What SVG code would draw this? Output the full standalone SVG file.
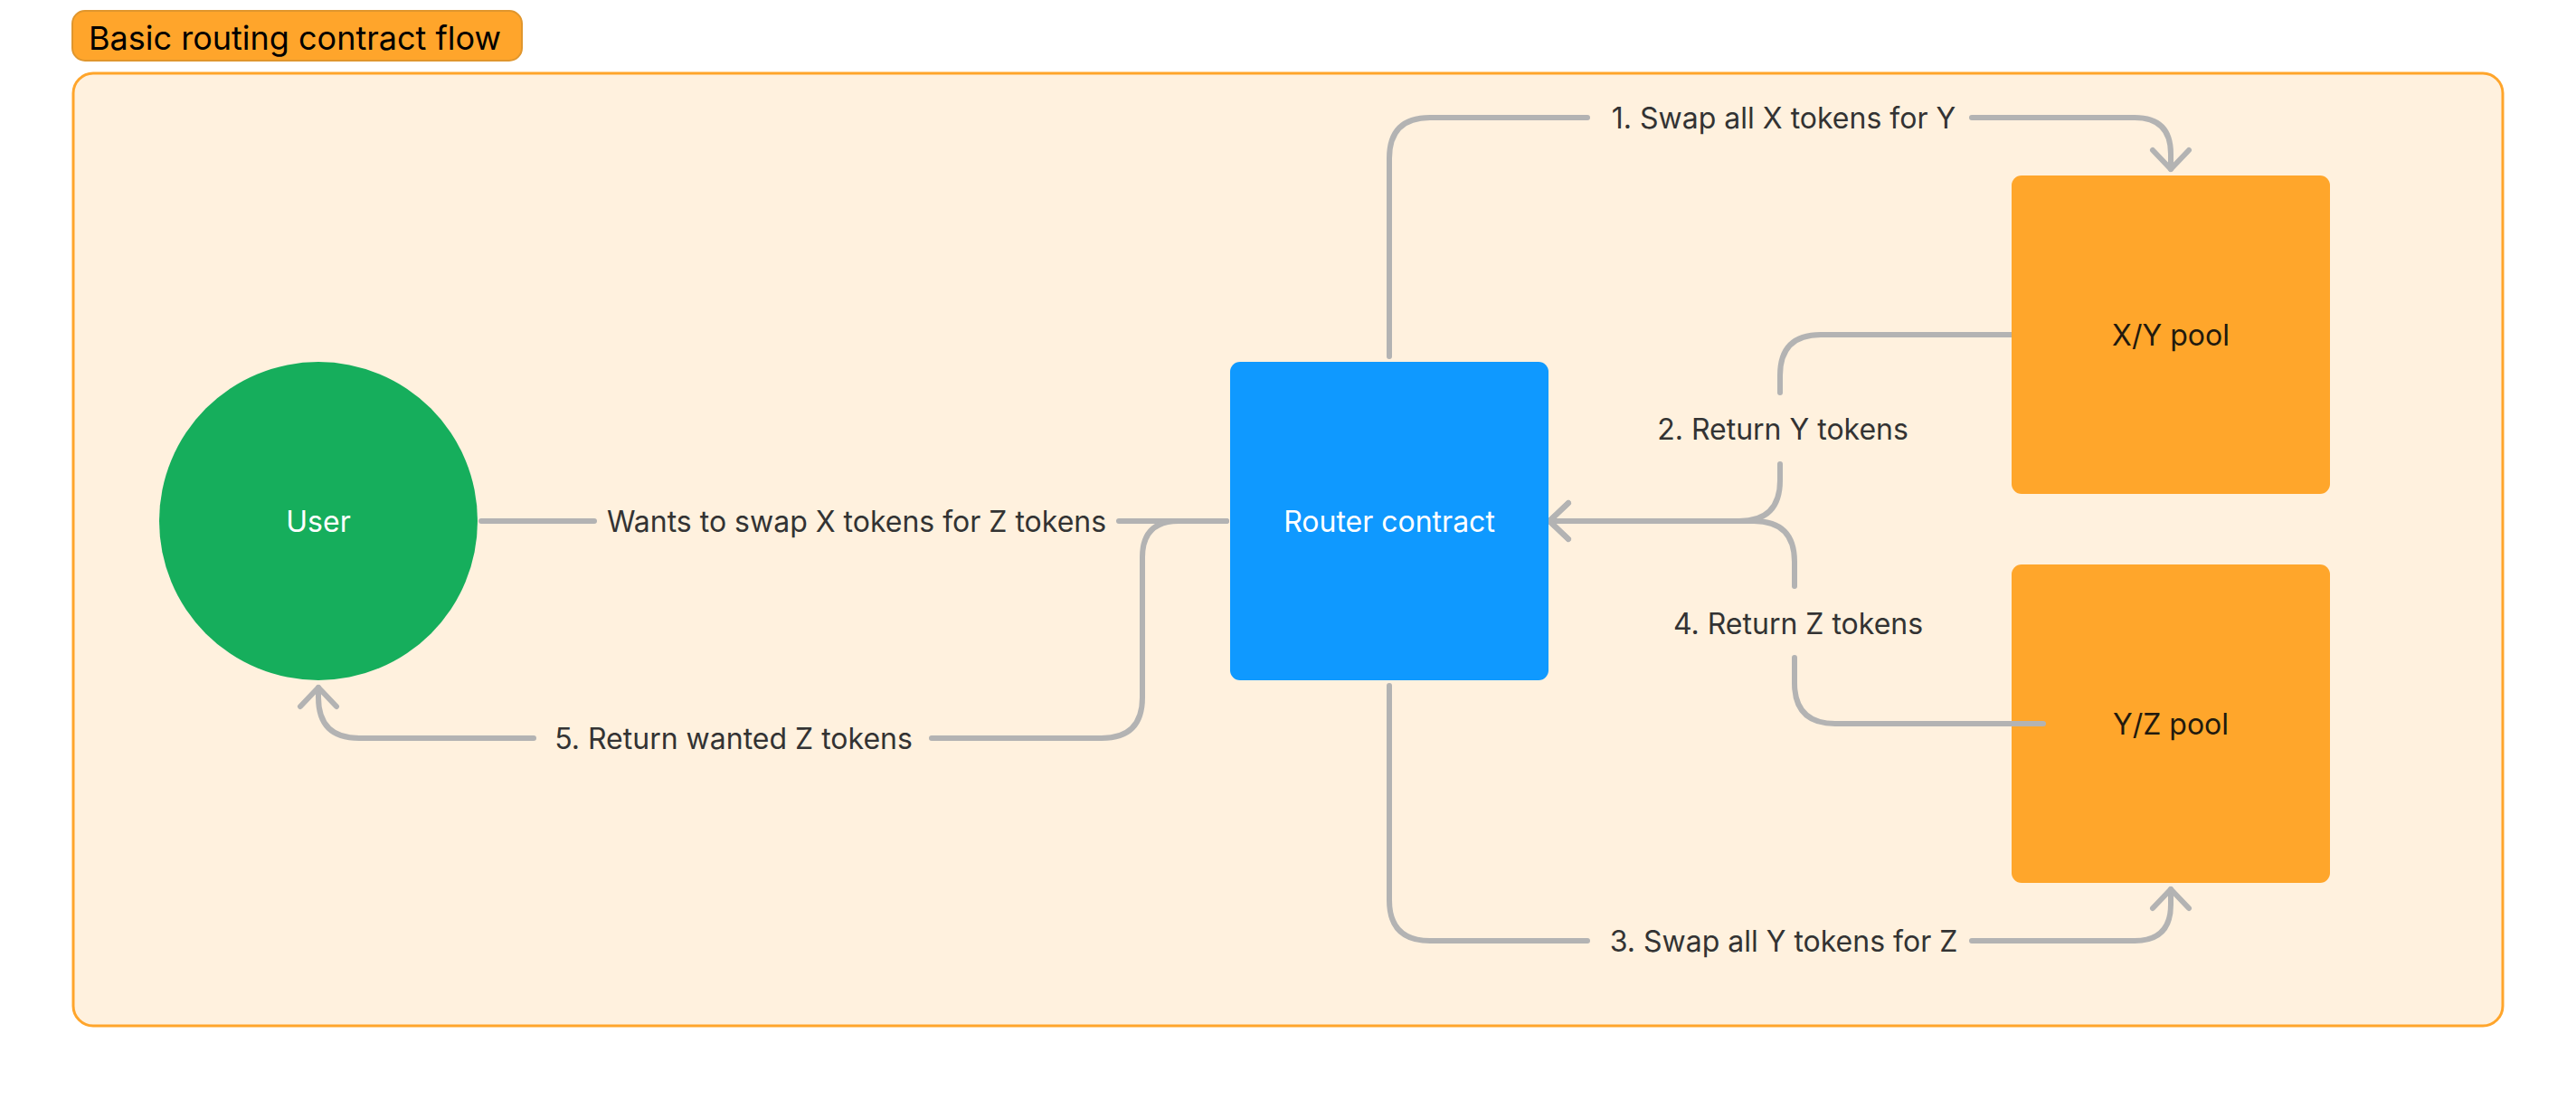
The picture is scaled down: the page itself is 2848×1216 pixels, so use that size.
<svg xmlns="http://www.w3.org/2000/svg" width="2848" height="1216" viewBox="0 0 2848 1216">
<style>
.lbl{font-family:Inter,"Noto Sans","Liberation Sans",sans-serif;font-size:32px;fill:#333333;text-anchor:middle}
.nlbl{font-family:Inter,"Noto Sans","Liberation Sans",sans-serif;font-size:32px;text-anchor:middle}
.edge{fill:none;stroke:#B3B3B3;stroke-width:6;stroke-linecap:round;stroke-linejoin:round}
</style>
<defs>
<marker id="arr" markerUnits="userSpaceOnUse" markerWidth="60" markerHeight="60" viewBox="-30 -30 60 60" refX="0" refY="0" orient="auto" overflow="visible">
<path d="M-21,-20 L0,0 L-21,20" fill="none" stroke="#B3B3B3" stroke-width="6" stroke-linecap="round" stroke-linejoin="round"/>
</marker>
</defs>
<rect width="2848" height="1216" fill="#FFFFFF"/>
<g id="container">
<rect x="81" y="81" width="2686" height="1053" rx="22" fill="#FFF1DE" stroke="#FFA52B" stroke-width="3"/>
</g>
<g id="title">
<rect x="80" y="12" width="497" height="55" rx="14" fill="#FFA52B" stroke="#E0962D" stroke-width="2"/>
<text x="98" y="55" font-family="Inter,'Noto Sans','Liberation Sans',sans-serif" font-size="36" fill="#000000">Basic routing contract flow</text>
</g>
<g id="connectors">
<path class="edge" d="M532,576 H657 M1237,576 H1356"/>
<path class="edge" marker-end="url(#arr)" d="M1356,576 H1303 Q1263,576 1263,616 V771 Q1263,816 1218,816 H1030 M590,816 H397 Q352,816 352,771 V760"/>
<path class="edge" marker-end="url(#arr)" d="M1536,394 V175 Q1536,130 1581,130 H1755 M2180,130 H2360 Q2400,130 2400,170 V187"/>
<path class="edge" marker-end="url(#arr)" d="M1536,758 V995 Q1536,1040 1581,1040 H1755 M2180,1040 H2360 Q2400,1040 2400,1000 V983"/>
<path class="edge" marker-end="url(#arr)" d="M2224,370 H2013 Q1968,370 1968,415 V434 M1968,513 V531 Q1968,576 1923,576 H1713"/>
<path class="edge" marker-end="url(#arr)" d="M1984,648 V621 Q1984,576 1939,576 H1713"/>
<text class="lbl" x="947" y="588">Wants to swap X tokens for Z tokens</text>
<text class="lbl" x="811" y="828">5. Return wanted Z tokens</text>
<text class="lbl" x="1972" y="142">1. Swap all X tokens for Y</text>
<text class="lbl" x="1972" y="1052">3. Swap all Y tokens for Z</text>
<text class="lbl" x="1971" y="486">2. Return Y tokens</text>
<text class="lbl" x="1988" y="701">4. Return Z tokens</text>
</g>
<g id="user">
<circle cx="352" cy="576" r="176" fill="#16AE5C"/>
<text class="nlbl" x="352" y="588" fill="#FFFFFF">User</text>
</g>
<g id="router">
<rect x="1360" y="400" width="352" height="352" rx="11" fill="#0F99FF"/>
<text class="nlbl" x="1536" y="588" fill="#FFFFFF">Router contract</text>
</g>
<g id="xy-pool">
<rect x="2224" y="194" width="352" height="352" rx="11" fill="#FFA62B"/>
<text class="nlbl" x="2400" y="382" fill="#221A0E">X/Y pool</text>
</g>
<g id="yz-pool">
<rect x="2224" y="624" width="352" height="352" rx="11" fill="#FFA62B"/>
<text class="nlbl" x="2400" y="812" fill="#221A0E">Y/Z pool</text>
</g>
<g id="yz-edge-overlay">
<path class="edge" d="M2259,800 H2029 Q1984,800 1984,755 V727"/>
</g>
</svg>
